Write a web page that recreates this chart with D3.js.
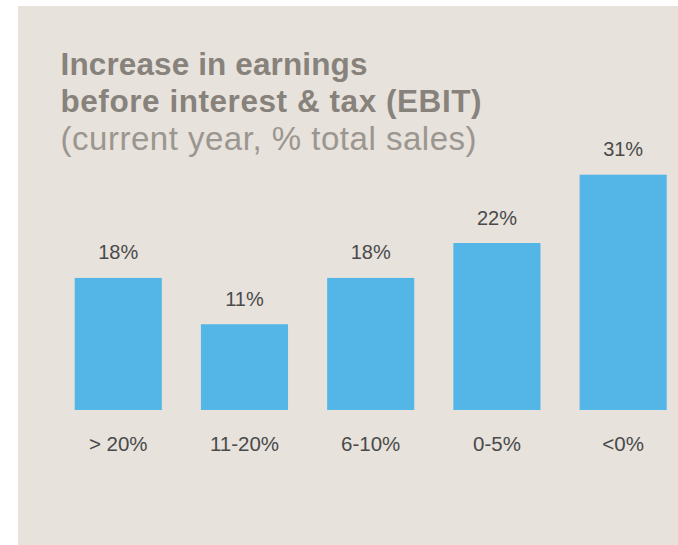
<!DOCTYPE html>
<html>
<head>
<meta charset="utf-8">
<script src="https://cdn.jsdelivr.net/npm/d3@7"></script>
<style>
  html, body { margin: 0; padding: 0; background: #ffffff; }
  svg { display: block; }
</style>
</head>
<body>
<svg id="chart" width="678" height="545"></svg>
<script>
// data
var categories = ["> 20%", "11-20%", "6-10%", "0-5%", "<0%"];
var values = [17.4, 11.3, 17.4, 22.0, 31.0];
var valueLabels = ["18%", "11%", "18%", "22%", "31%"];
var titleLines = ["Increase in earnings", "before interest & tax (EBIT)"];
var subtitle = "(current year, % total sales)";

var svg = d3.select("#chart"),
    width = +svg.attr("width"),
    height = +svg.attr("height");

// beige panel
svg.append("rect")
    .attr("x", 18)
    .attr("y", 6)
    .attr("width", width - 18)
    .attr("height", height - 6)
    .attr("fill", "#e7e2dc");

var font = "'Liberation Sans', Arial, sans-serif";
var titleWidths = [307, 421];   // stretch to match the wider original face

svg.append("g").selectAll("text")
    .data(titleLines)
    .enter().append("text")
    .attr("x", 60.5)
    .attr("y", function(d, i) { return 74.5 + i * 37; })
    .attr("font-family", font)
    .attr("font-weight", "bold")
    .attr("font-size", 31.5)
    .attr("fill", "#87827b")
    .attr("textLength", function(d, i) { return titleWidths[i]; })
    .attr("lengthAdjust", "spacing")
    .text(function(d) { return d; });

svg.append("text")
    .attr("x", 60.5)
    .attr("y", 150)
    .attr("font-family", font)
    .attr("font-size", 33)
    .attr("fill", "#9b968f")
    .attr("textLength", 416)
    .attr("lengthAdjust", "spacing")
    .text(subtitle);

var x = d3.scaleBand()
    .domain(categories)
    .range([74.7, 666.7])
    .paddingInner(0.31)
    .paddingOuter(0);

var y = d3.scaleLinear()
    .domain([0, 31])
    .range([410, 174.7]);

var bars = svg.append("g").attr("class", "bars");

bars.selectAll("rect")
    .data(values)
    .enter().append("rect")
    .attr("x", function(d, i) { return x(categories[i]); })
    .attr("y", function(d) { return y(d); })
    .attr("width", x.bandwidth())
    .attr("height", function(d) { return y(0) - y(d); })
    .attr("fill", "#53b6e6");

bars.selectAll("text.value")
    .data(values)
    .enter().append("text")
    .attr("class", "value")
    .attr("x", function(d, i) { return x(categories[i]) + x.bandwidth() / 2; })
    .attr("y", function(d) { return y(d) - 18.5; })
    .attr("text-anchor", "middle")
    .attr("font-family", font)
    .attr("font-size", 20)
    .attr("fill", "#4a4a4a")
    .text(function(d, i) { return valueLabels[i]; });

// category axis, no line or ticks
var xAxis = svg.append("g")
    .attr("transform", "translate(0," + y(0) + ")")
    .call(d3.axisBottom(x).tickSize(0).tickPadding(0));

xAxis.select(".domain").remove();
xAxis.selectAll("text")
    .attr("dy", null)
    .attr("y", 40.5)
    .attr("font-family", font)
    .attr("font-size", 20.5)
    .attr("fill", "#4a4a4a");
</script>
</body>
</html>
